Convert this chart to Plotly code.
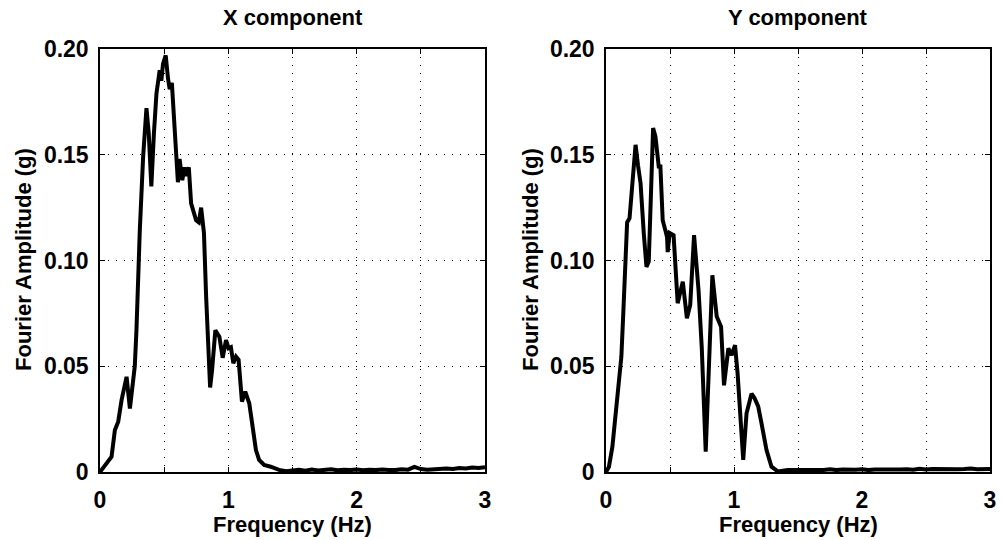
import plotly.graph_objects as go

# X component
fx = [0, 0.05, 0.09, 0.116, 0.142, 0.168, 0.19, 0.207, 0.233, 0.255, 0.271, 0.284, 0.297, 0.31,
      0.336, 0.362, 0.38, 0.40, 0.42, 0.44, 0.465, 0.478, 0.491, 0.512, 0.53, 0.543, 0.56, 0.581,
      0.607, 0.62, 0.641, 0.659, 0.672, 0.692, 0.71, 0.749, 0.77, 0.788, 0.81, 0.827, 0.858, 0.873,
      0.899, 0.93, 0.956, 0.982, 1.002, 1.02, 1.039, 1.06, 1.08, 1.106, 1.132, 1.163, 1.19, 1.215,
      1.24, 1.279, 1.33, 1.395, 1.45, 1.5, 1.55, 1.6, 1.65, 1.7, 1.75, 1.8, 1.85, 1.9, 1.95, 2.0,
      2.05, 2.1, 2.15, 2.2, 2.25, 2.3, 2.35, 2.4, 2.45, 2.5, 2.55, 2.6, 2.65, 2.7, 2.75, 2.8, 2.85,
      2.9, 2.95, 3.0]
ax = [0, 0.004, 0.0072, 0.0199, 0.0238, 0.034, 0.040, 0.045, 0.030, 0.043, 0.050, 0.067, 0.100,
      0.114, 0.149, 0.172, 0.160, 0.135, 0.160, 0.179, 0.190, 0.185, 0.193, 0.197, 0.186, 0.181,
      0.184, 0.165, 0.137, 0.148, 0.138, 0.144, 0.140, 0.144, 0.127, 0.119, 0.118, 0.125, 0.113,
      0.083, 0.040, 0.048, 0.067, 0.064, 0.054, 0.0624, 0.0585, 0.059, 0.0514, 0.0545, 0.053,
      0.0333, 0.038, 0.0325, 0.020, 0.0104, 0.0057, 0.0033, 0.0025, 0.001, 0.0004, 0.0008, 0.0011,
      0.0006, 0.0012, 0.0007, 0.0010, 0.0013, 0.0008, 0.0011, 0.0009, 0.0012, 0.0008, 0.0011,
      0.0009, 0.0012, 0.0010, 0.0009, 0.0013, 0.0011, 0.0024, 0.0014, 0.0011, 0.0013, 0.0015,
      0.0016, 0.0014, 0.0019, 0.0017, 0.0021, 0.0019, 0.0022]

# Y component
fy = [0, 0.023, 0.05, 0.09, 0.12, 0.135, 0.148, 0.165, 0.184, 0.205, 0.231, 0.25, 0.27, 0.295,
      0.316, 0.334, 0.35, 0.368, 0.386, 0.412, 0.425, 0.443, 0.465, 0.477, 0.482, 0.497, 0.528,
      0.545, 0.56, 0.6, 0.632, 0.658, 0.688, 0.723, 0.748, 0.779, 0.813, 0.831, 0.865, 0.899,
      0.922, 0.956, 0.982, 1.008, 1.028, 1.05, 1.072, 1.098, 1.137, 1.16, 1.189, 1.215, 1.254,
      1.293, 1.344, 1.42, 1.5, 1.55, 1.6, 1.65, 1.7, 1.75, 1.8, 1.85, 1.9, 1.95, 2.0, 2.05, 2.1,
      2.15, 2.2, 2.25, 2.3, 2.35, 2.4, 2.45, 2.5, 2.55, 2.6, 2.65, 2.7, 2.75, 2.8, 2.85, 2.9,
      2.95, 3.0]
ay = [0, 0.0025, 0.012, 0.0356, 0.0545, 0.075, 0.091, 0.118, 0.120, 0.135, 0.1547, 0.145,
      0.1366, 0.113, 0.097, 0.0995, 0.130, 0.1626, 0.1587, 0.1445, 0.1445, 0.119, 0.114, 0.111,
      0.104, 0.113, 0.112, 0.098, 0.0798, 0.090, 0.0727, 0.079, 0.112, 0.086, 0.059, 0.0096,
      0.067, 0.093, 0.0735, 0.0687, 0.041, 0.0585, 0.0553, 0.060, 0.0467, 0.025, 0.0057, 0.0278,
      0.037, 0.035, 0.031, 0.023, 0.0104, 0.0025, 0.0002, 0.001, 0.0009, 0.0012, 0.0008, 0.0011,
      0.0010, 0.0013, 0.0009, 0.0012, 0.0010, 0.0011, 0.0013, 0.0009, 0.0012, 0.0011, 0.0014,
      0.0010, 0.0012, 0.0013, 0.0011, 0.0015, 0.0012, 0.0014, 0.0013, 0.0012, 0.0015, 0.0013,
      0.0014, 0.0016, 0.0013, 0.0015, 0.0014]

x_tickvals = [0, 0.5, 1, 1.5, 2, 2.5, 3]
x_ticktext = ["0", "", "1", "", "2", "", "3"]
y_tickvals = [0, 0.05, 0.10, 0.15, 0.20]
y_ticktext = ["0", "0.05", "0.10", "0.15", "0.20"]
titles = ["X component", "Y component"]

FONT = "Liberation Sans"
W, H = 1003, 540
left_dom = [100 / W, 485 / W]
right_dom = [606 / W, 990 / W]
y_dom = [1 - 472 / H, 1 - 49 / H]

fig = go.Figure()
fig.add_trace(go.Scatter(x=fx, y=ax, mode="lines", line=dict(color="black", width=4),
                         xaxis="x", yaxis="y", showlegend=False))
fig.add_trace(go.Scatter(x=fy, y=ay, mode="lines", line=dict(color="black", width=4),
                         xaxis="x2", yaxis="y2", showlegend=False))

tickfont = dict(family=FONT, size=23, color="black", weight="bold")
GRID_DASH = "1px,7px"

def xaxis(dom, anchor):
    return dict(domain=dom, anchor=anchor, range=[0, 3], tickvals=x_tickvals, ticktext=x_ticktext,
                ticks="inside", ticklen=5, tickcolor="black", mirror="allticks", showline=True,
                linecolor="black", linewidth=1.5, showgrid=True, gridcolor="black",
                griddash=GRID_DASH, gridwidth=1.3, zeroline=False, tickfont=tickfont,
                automargin=False, ticklabelstandoff=7)

def yaxis(anchor):
    return dict(domain=y_dom, anchor=anchor, range=[0, 0.2], tickvals=y_tickvals,
                ticktext=y_ticktext, ticks="inside", ticklen=5, tickcolor="black",
                mirror="allticks", showline=True, linecolor="black", linewidth=1.5, showgrid=True,
                gridcolor="black", griddash=GRID_DASH, gridwidth=1.3, zeroline=False,
                tickfont=tickfont, automargin=False, ticklabelstandoff=5)

fig.update_layout(
    width=W, height=H, margin=dict(l=0, r=0, t=0, b=0),
    paper_bgcolor="white", plot_bgcolor="white",
    xaxis=xaxis(left_dom, "y"), yaxis=yaxis("x"),
    xaxis2=xaxis(right_dom, "y2"), yaxis2=yaxis("x2"),
)

annots = []
for dom, t in zip([left_dom, right_dom], titles):
    cx = (dom[0] + dom[1]) / 2
    annots.append(dict(x=cx, y=1 - 18 / H, xref="paper", yref="paper", text=t, showarrow=False,
                       font=dict(family=FONT, size=22, color="black", weight="bold"),
                       xanchor="center", yanchor="middle"))
    annots.append(dict(x=cx, y=1 - 524 / H, xref="paper", yref="paper", text="Frequency (Hz)",
                       showarrow=False, font=dict(family=FONT, size=22, color="black", weight="bold"),
                       xanchor="center", yanchor="middle"))
for xpx in [24, 531]:
    annots.append(dict(x=xpx / W, y=1 - 260 / H, xref="paper", yref="paper",
                       text="Fourier Amplitude (g)", textangle=-90, showarrow=False,
                       font=dict(family=FONT, size=22, color="black", weight="bold"),
                       xanchor="center", yanchor="middle"))
fig.update_layout(annotations=annots)

fig.write_html("out.html")
